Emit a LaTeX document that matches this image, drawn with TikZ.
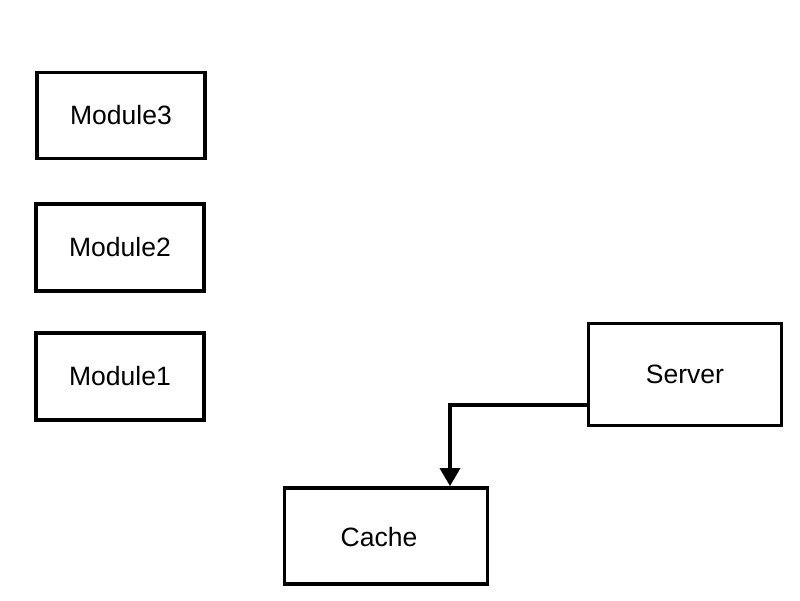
\documentclass[tikz,border=0pt]{standalone}
\usepackage{fontspec}
\setmainfont{Liberation Sans}
\usetikzlibrary{arrows.meta}
\begin{document}
\begin{tikzpicture}[x=1pt,y=1pt,
  box/.style={draw=black, line width=3.8pt, fill=white, font=\fontsize{26.5}{31}\selectfont, inner sep=0pt},
  arr/.style={draw=black, line width=3.5pt, -{Triangle[width=20pt,length=18pt]}}]
\useasboundingbox[fill=white] (0,0) rectangle (800,600);
\node[box, minimum width=168pt, minimum height=86pt] (m3) at (121,484.5) {Module3};
\node[box, minimum width=168pt, minimum height=87pt] (m2) at (120,352.5) {Module2};
\node[box, minimum width=168pt, minimum height=87pt] (m1) at (120,223.5) {Module1};
\node[box, minimum width=193pt, minimum height=102pt] (server) at (685,225.5) {Server};
\node[box, minimum width=203pt, minimum height=96pt] (cache) at (386,64) {};
\node[font=\fontsize{26.5}{31}\selectfont] (cachetext) at (379,63) {Cache};
\coordinate (bend) at (450,195);
\draw[arr] (bend -| server.west) -- (bend) -- (bend |- cache.north);
\end{tikzpicture}
\end{document}
